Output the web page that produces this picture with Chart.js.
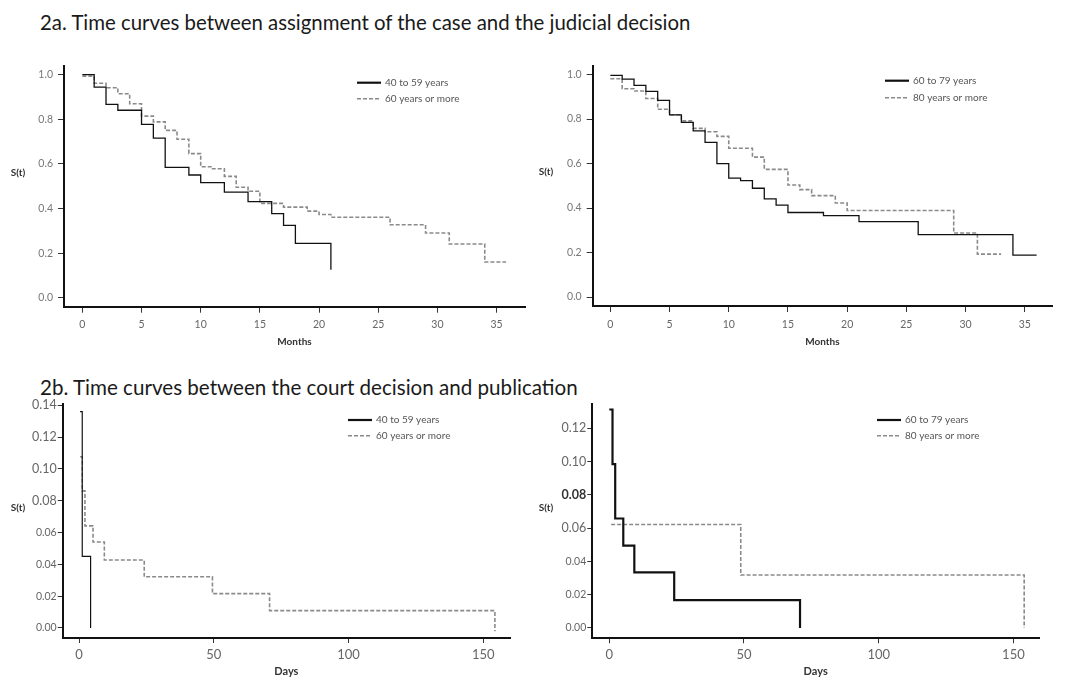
<!DOCTYPE html>
<html>
<head>
<meta charset="utf-8">
<script src="https://cdn.jsdelivr.net/npm/chart.js@4.4.1/dist/chart.umd.min.js"></script>
<style>
    body { margin: 0; width: 1070px; height: 678px; background: #fff; position: relative; overflow: hidden; font-family: "Lato", sans-serif; }
    .title { position: absolute; left: 40px; font-size: 20.4px; color: #1a1a1a; white-space: nowrap; }
    canvas { position: absolute; }
</style>
</head>
<body>
<div class="title" style="top:10px">2a. Time curves between assignment of the case and the judicial decision</div>
<div class="title" style="top:375px;font-size:20.6px">2b. Time curves between the court decision and publication</div>
<canvas id="c1" width="535" height="295" style="left:0;top:55px"></canvas>
<canvas id="c2" width="535" height="295" style="left:535px;top:55px"></canvas>
<canvas id="c3" width="535" height="283" style="left:0;top:395px"></canvas>
<canvas id="c4" width="535" height="283" style="left:535px;top:395px"></canvas>

<script>
// Tick labels
const monthTicks = [0, 5, 10, 15, 20, 25, 30, 35];
const dayTicks = [0, 50, 100, 150];
const survTicksMonths = [0, 0.2, 0.4, 0.6, 0.8, 1.0];
const survTicksDays3 = [0, 0.02, 0.04, 0.06, 0.08, 0.10, 0.12, 0.14];
const survTicksDays4 = [0, 0.02, 0.04, 0.06, 0.08, 0.10, 0.12];

// 2a left: 40 to 59 years / 60 years or more
const a1Months = [0, 1, 2, 3, 5, 6, 7, 9, 10, 12, 14, 16, 17, 18, 21];
const a1Surv = [1.0, 0.944, 0.866, 0.840, 0.777, 0.715, 0.584, 0.550, 0.516, 0.473, 0.431, 0.377, 0.324, 0.244, 0.126];
const b1Months = [0, 1, 2, 3, 4, 5, 6, 7, 8, 9, 10, 11, 12, 13, 14, 15, 17, 19, 20, 21, 26, 29, 31, 34, 35.8];
const b1Surv = [0.993, 0.961, 0.941, 0.914, 0.869, 0.814, 0.788, 0.750, 0.710, 0.646, 0.587, 0.578, 0.544, 0.495, 0.477, 0.423, 0.406, 0.388, 0.373, 0.361, 0.327, 0.290, 0.241, 0.160, 0.160];

// 2a right: 60 to 79 years / 80 years or more
const a2Months = [0, 1, 2, 3, 4, 5, 6, 7, 8, 9, 10, 11, 12, 13, 14, 15, 18, 21, 26, 34, 36];
const a2Surv = [0.996, 0.979, 0.951, 0.924, 0.884, 0.819, 0.785, 0.747, 0.695, 0.600, 0.535, 0.523, 0.489, 0.441, 0.413, 0.380, 0.366, 0.339, 0.281, 0.189, 0.189];
const b2Months = [0, 1, 2, 3, 4, 5, 6, 7, 8, 9, 10, 12, 13, 15, 16, 17, 19, 20, 29, 31, 33];
const b2Surv = [0.981, 0.936, 0.926, 0.892, 0.844, 0.819, 0.792, 0.758, 0.743, 0.722, 0.669, 0.629, 0.574, 0.504, 0.483, 0.456, 0.423, 0.389, 0.288, 0.193, 0.193];

// 2b left: 40 to 59 years / 60 years or more
const a3Days = [0.4, 1.2, 4.3];
const a3Surv = [0.136, 0.045, 0];
const b3Days = [0.4, 1.2, 2.2, 5.2, 9.4, 24.2, 49.5, 70.7, 154.3];
const b3Surv = [0.1076, 0.0862, 0.0642, 0.054, 0.0427, 0.0322, 0.0216, 0.0109, -0.002];

// 2b right: 60 to 79 years / 80 years or more
const a4Days = [0, 1.2, 2.2, 5.2, 9.3, 24.1, 70.8];
const a4Surv = [0.1313, 0.0985, 0.0658, 0.0495, 0.0334, 0.0167, 0];
const b4Days = [0.7, 48.8, 154];
const b4Surv = [0.0622, 0.0318, 0];

const FONT = "Lato";

function toPoints(xs, ys) {
    return xs.map((x, i) => ({ x: x, y: ys[i] }));
}

function solid(label, xs, ys, width) {
    return {
        label: label,
        data: toPoints(xs, ys),
        borderColor: "#111",
        borderWidth: width,
        stepped: "before",
        pointRadius: 0,
        fill: false,
    };
}

function dashed(label, xs, ys) {
    return {
        label: label,
        data: toPoints(xs, ys),
        borderColor: "#8a8a8a",
        borderWidth: 1.6,
        borderDash: [4, 2],
        stepped: "before",
        pointRadius: 0,
        fill: false,
    };
}

function near(list, v) {
    return list.some(b => Math.abs(b - v) < 1e-6);
}

// legend lines + horizontal S(t) label
const decor = {
    id: "decor",
    afterDatasetsDraw(chart, args, opts) {
        const ctx = chart.ctx;
        ctx.save();
        chart.data.datasets.forEach((ds, i) => {
            const y = opts.legendY + i * opts.legendGap;
            ctx.beginPath();
            ctx.strokeStyle = ds.borderColor;
            ctx.lineWidth = ds.borderDash ? 1.6 : 2.2;
            ctx.setLineDash(ds.borderDash || []);
            ctx.moveTo(opts.legendX, y);
            ctx.lineTo(opts.legendX + 24, y);
            ctx.stroke();
            ctx.setLineDash([]);
            ctx.fillStyle = "#555";
            ctx.font = "10px " + FONT;
            ctx.textAlign = "left";
            ctx.textBaseline = "middle";
            ctx.fillText(ds.label, opts.legendX + 28, y);
        });
        ctx.fillStyle = "#333";
        ctx.font = "bold 10px " + FONT;
        ctx.textAlign = "center";
        ctx.textBaseline = "middle";
        ctx.fillText("S(t)", opts.labelX, opts.labelY);
        ctx.restore();
    }
};

function makeChart(id, o) {
    new Chart(document.getElementById(id), {
        type: "line",
        data: { datasets: o.datasets },
        options: {
            responsive: false,
            animation: false,
            layout: { padding: { top: o.padTop, right: o.padRight, left: 0, bottom: 0 } },
            plugins: {
                legend: { display: false },
                tooltip: { enabled: false },
                decor: o.decor,
            },
            scales: {
                x: {
                    type: "linear",
                    min: o.xMin,
                    max: o.xMax,
                    afterBuildTicks: s => { s.ticks = o.xTicks.map(v => ({ value: v })); },
                    afterFit: s => { s.height = o.xHeight; },
                    border: { display: true, color: "#111", width: 2 },
                    grid: { drawOnChartArea: false, drawTicks: true, tickLength: o.tickLen, tickColor: "#333", tickWidth: 1 },
                    ticks: {
                        autoSkip: false,
                        maxRotation: 0,
                        color: "#666",
                        padding: o.xPad,
                        font: { family: FONT, size: o.xFont },
                        callback: v => String(v),
                    },
                    title: {
                        display: true,
                        text: o.xTitle,
                        color: "#333",
                        font: { family: FONT, size: o.xTitleFont, weight: "bold" },
                        padding: { top: 0, bottom: o.xTitlePad },
                    },
                },
                y: {
                    type: "linear",
                    min: o.yMin,
                    max: o.yMax,
                    afterBuildTicks: s => { s.ticks = o.yTicks.map(v => ({ value: v })); },
                    afterFit: s => { s.width = o.yWidth; },
                    border: { display: true, color: "#111", width: 2 },
                    grid: { drawOnChartArea: false, drawTicks: true, tickLength: o.tickLen, tickColor: "#333", tickWidth: 1 },
                    ticks: {
                        autoSkip: false,
                        padding: o.yPad,
                        color: o.yColor,
                        font: o.yFont,
                        callback: v => v.toFixed(o.yDec),
                    },
                },
            },
        },
        plugins: [decor],
    });
}

document.addEventListener("DOMContentLoaded", function () {
    const topBase = {
        xTicks: monthTicks, yTicks: survTicksMonths, yDec: 1,
        xTitle: "Months", xFont: 10.5, xTitleFont: 10, xPad: 6, xTitlePad: 2,
        tickLen: 6, yPad: 5, yMin: -0.04, yMax: 1.037,
        yColor: "#777", yFont: { family: FONT, size: 10.5 },
    };

    makeChart("c1", Object.assign({}, topBase, {
        datasets: [solid("40 to 59 years", a1Months, a1Surv, 1.3), dashed("60 years or more", b1Months, b1Surv)],
        xMin: -1.55, xMax: 37.4, padTop: 10, padRight: 10, xHeight: 43.3, yWidth: 64,
        decor: { legendX: 357, legendY: 27.7, legendGap: 16, labelX: 18, labelY: 118 },
    }));

    makeChart("c2", Object.assign({}, topBase, {
        datasets: [solid("60 to 79 years", a2Months, a2Surv, 1.3), dashed("80 years or more", b2Months, b2Surv)],
        xMin: -1.49, xMax: 37.3, padTop: 9, padRight: 18, xHeight: 44, yWidth: 57.7,
        decor: { legendX: 350, legendY: 25.7, legendGap: 17, labelX: 11, labelY: 117 },
    }));

    const bigTicks3 = [0.08, 0.10, 0.12, 0.14];
    const bottomBase = {
        xTicks: dayTicks, yDec: 2,
        xTitle: "Days", xFont: 13, xTitleFont: 11, xPad: 4, xTitlePad: 0,
        tickLen: 5, yPad: 1,
    };

    makeChart("c3", Object.assign({}, bottomBase, {
        datasets: [solid("40 to 59 years", a3Days, a3Surv, 1.2), dashed("60 years or more", b3Days, b3Surv)],
        yTicks: survTicksDays3,
        xMin: -6.05, xMax: 159.9, yMin: -0.0063, yMax: 0.1411,
        padTop: 8.3, padRight: 25, xHeight: 40, yWidth: 62.7,
        yColor: "#666",
        yFont: c => ({ family: FONT, size: c.tick && near(bigTicks3, c.tick.value) ? 12.5 : 10.5 }),
        decor: { legendX: 348, legendY: 25, legendGap: 15.7, labelX: 18, labelY: 113 },
    }));

    const bigTicks4 = [0.06, 0.10, 0.12];
    makeChart("c4", Object.assign({}, bottomBase, {
        datasets: [solid("60 to 79 years", a4Days, a4Surv, 2.2), dashed("80 years or more", b4Days, b4Surv)],
        yTicks: survTicksDays4,
        xMin: -6.3, xMax: 159.5, yMin: -0.0062, yMax: 0.1349,
        padTop: 8.3, padRight: 31, xHeight: 39.7, yWidth: 57.3,
        yColor: c => c.tick && near([0.08], c.tick.value) ? "#333" : "#666",
        yFont: c => {
            if (!c.tick) return { family: FONT, size: 10.5 };
            const v = c.tick.value;
            if (near([0.08], v)) return { family: FONT, size: 12.5, weight: "bold" };
            return { family: FONT, size: near(bigTicks4, v) ? 12.5 : 10.5 };
        },
        decor: { legendX: 342, legendY: 25, legendGap: 15.7, labelX: 11, labelY: 113 },
    }));
});
</script>
</body>
</html>
